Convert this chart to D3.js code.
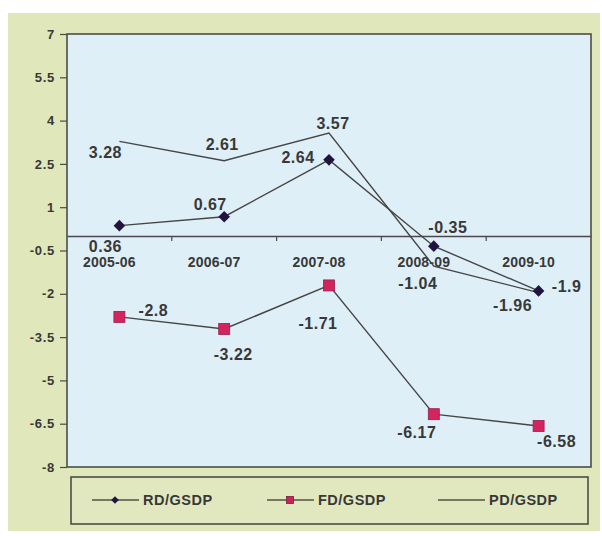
<!DOCTYPE html>
<html>
<head>
<meta charset="utf-8">
<script src="https://cdn.jsdelivr.net/npm/d3@7"></script>
<style>
  html, body { margin: 0; padding: 0; background: #ffffff; }
  svg { display: block; }
  text { font-family: "Liberation Sans", Arial, sans-serif; font-weight: bold; fill: #383838; }
</style>
</head>
<body>
<svg id="chart" width="602" height="536"></svg>
<script>
// Financial years on the x axis
const years = ["2005-06", "2006-07", "2007-08", "2008-09", "2009-10"];

// Deficit ratios (% of GSDP)
const rdGsdp = [0.36, 0.67, 2.64, -0.35, -1.9];
const fdGsdp = [-2.8, -3.22, -1.71, -6.17, -6.58];
const pdGsdp = [3.28, 2.61, 3.57, -1.04, -1.96];

// Value-axis ticks
const yTicks = [7, 5.5, 4, 2.5, 1, -0.5, -2, -3.5, -5, -6.5, -8];

const seriesNames = ["RD/GSDP", "FD/GSDP", "PD/GSDP"];

// Where each value label sits relative to its point (dx, dy to the label centre)
const labelOffsets = {
  rd: [[-14, 21], [-14, -12], [-31, -2], [14, -19], [28, -4]],
  fd: [[34, -6], [9, 25], [-11, 38], [-17, 18], [18, 15]],
  pd: [[-14, 11], [-2, -16], [4, -10], [-16, 17], [-26, 13]]
};

const svg = d3.select("#chart");

const plot = { left: 67, top: 34, right: 591, bottom: 467 };

// Chart-area background
svg.append("rect")
  .attr("x", 8).attr("y", 13).attr("width", 592).attr("height", 518)
  .attr("fill", "#dfe7bb");

// Plot-area background
svg.append("rect")
  .attr("x", plot.left).attr("y", plot.top)
  .attr("width", plot.right - plot.left).attr("height", plot.bottom - plot.top)
  .attr("fill", "#dfeff7");

const x = d3.scaleBand().domain(years).range([plot.left, plot.right]).padding(0);
const y = d3.scaleLinear().domain([-8, 7]).range([plot.bottom, plot.top]);
const cx = d => x(d) + x.bandwidth() / 2;

// Value axis
const yAxis = svg.append("g")
  .attr("transform", `translate(${plot.left},0)`)
  .call(d3.axisLeft(y).tickValues(yTicks).tickSize(7).tickPadding(5).tickFormat(d => String(d)));
yAxis.select(".domain").remove();
yAxis.selectAll(".tick line").attr("stroke", "#4a4d45").attr("stroke-width", 1.2);
yAxis.selectAll(".tick text")
  .style("font-size", "13px").style("letter-spacing", "0.7px")
  .attr("fill", "#333333");

// Category axis crossing at zero
const xAxis = svg.append("g")
  .attr("transform", `translate(0,${y(0)})`)
  .call(d3.axisBottom(x).tickSize(0).tickPadding(0));
xAxis.select(".domain").attr("stroke", "#4b4650").attr("stroke-width", 1.4);
xAxis.selectAll(".tick text")
  .attr("dx", -10).attr("y", 21)
  .style("font-size", "14px").style("letter-spacing", "0.2px")
  .attr("fill", "#333333");

// Tick marks between categories
svg.append("g").selectAll("line")
  .data(years.slice(1))
  .join("line")
  .attr("x1", d => x(d)).attr("x2", d => x(d))
  .attr("y1", y(0)).attr("y2", y(0) + 5)
  .attr("stroke", "#4b4650").attr("stroke-width", 1.2);

// Plot-area border
svg.append("rect")
  .attr("x", plot.left).attr("y", plot.top)
  .attr("width", plot.right - plot.left).attr("height", plot.bottom - plot.top)
  .attr("fill", "none").attr("stroke", "#4a4f48").attr("stroke-width", 1.6);

const line = d3.line().x((d, i) => cx(years[i])).y(d => y(d));
const lineColor = "#454545";

[pdGsdp, rdGsdp, fdGsdp].forEach(vals => {
  svg.append("path")
    .datum(vals)
    .attr("d", line)
    .attr("fill", "none")
    .attr("stroke", lineColor)
    .attr("stroke-width", 1.4);
});

// Diamond markers
const diamond = (r) => `M0,${-r}L${r},0L0,${r}L${-r},0Z`;
svg.append("g").selectAll("path")
  .data(rdGsdp)
  .join("path")
  .attr("d", diamond(5.8))
  .attr("transform", (d, i) => `translate(${cx(years[i])},${y(d)})`)
  .attr("fill", "#21153f");

// Square markers
svg.append("g").selectAll("rect")
  .data(fdGsdp)
  .join("rect")
  .attr("x", (d, i) => cx(years[i]) - 5.5)
  .attr("y", d => y(d) - 5.5)
  .attr("width", 11).attr("height", 11)
  .attr("fill", "#d3245e")
  .attr("stroke", "#9a1f4a").attr("stroke-width", 0.8);

// Value labels
function drawLabels(vals, offsets) {
  svg.append("g").selectAll("text")
    .data(vals)
    .join("text")
    .attr("x", (d, i) => cx(years[i]) + offsets[i][0])
    .attr("y", (d, i) => y(d) + offsets[i][1])
    .attr("text-anchor", "middle")
    .attr("dominant-baseline", "central")
    .style("font-size", "16px")
    .style("letter-spacing", "0.5px")
    .attr("fill", "#303030")
    .text(d => String(d));
}
drawLabels(rdGsdp, labelOffsets.rd);
drawLabels(fdGsdp, labelOffsets.fd);
drawLabels(pdGsdp, labelOffsets.pd);

// Legend
const legend = svg.append("g");
legend.append("rect")
  .attr("x", 71).attr("y", 477).attr("width", 517).attr("height", 47)
  .attr("fill", "#e1e8bf")
  .attr("stroke", "#4a4f48").attr("stroke-width", 1.6);

const legendItems = [
  { name: seriesNames[0], x0: 92, marker: "diamond" },
  { name: seriesNames[1], x0: 267, marker: "square" },
  { name: seriesNames[2], x0: 438, marker: null }
];
const ly = 500;
legendItems.forEach(it => {
  const g = legend.append("g");
  g.append("line")
    .attr("x1", it.x0).attr("x2", it.x0 + 47)
    .attr("y1", ly).attr("y2", ly)
    .attr("stroke", "#4f5540").attr("stroke-width", 1.4);
  const mx = it.x0 + 23;
  if (it.marker === "diamond") {
    g.append("path").attr("d", diamond(3.8))
      .attr("transform", `translate(${mx},${ly})`).attr("fill", "#21153f");
  } else if (it.marker === "square") {
    g.append("rect").attr("x", mx - 3.5).attr("y", ly - 3.5)
      .attr("width", 7).attr("height", 7)
      .attr("fill", "#c8245a").attr("stroke", "#7a1c3e").attr("stroke-width", 0.8);
  }
  g.append("text")
    .attr("x", it.x0 + 51).attr("y", ly)
    .attr("dominant-baseline", "central")
    .style("font-size", "14.5px").style("letter-spacing", "0.5px")
    .attr("fill", "#353535")
    .text(it.name);
});
</script>
</body>
</html>
